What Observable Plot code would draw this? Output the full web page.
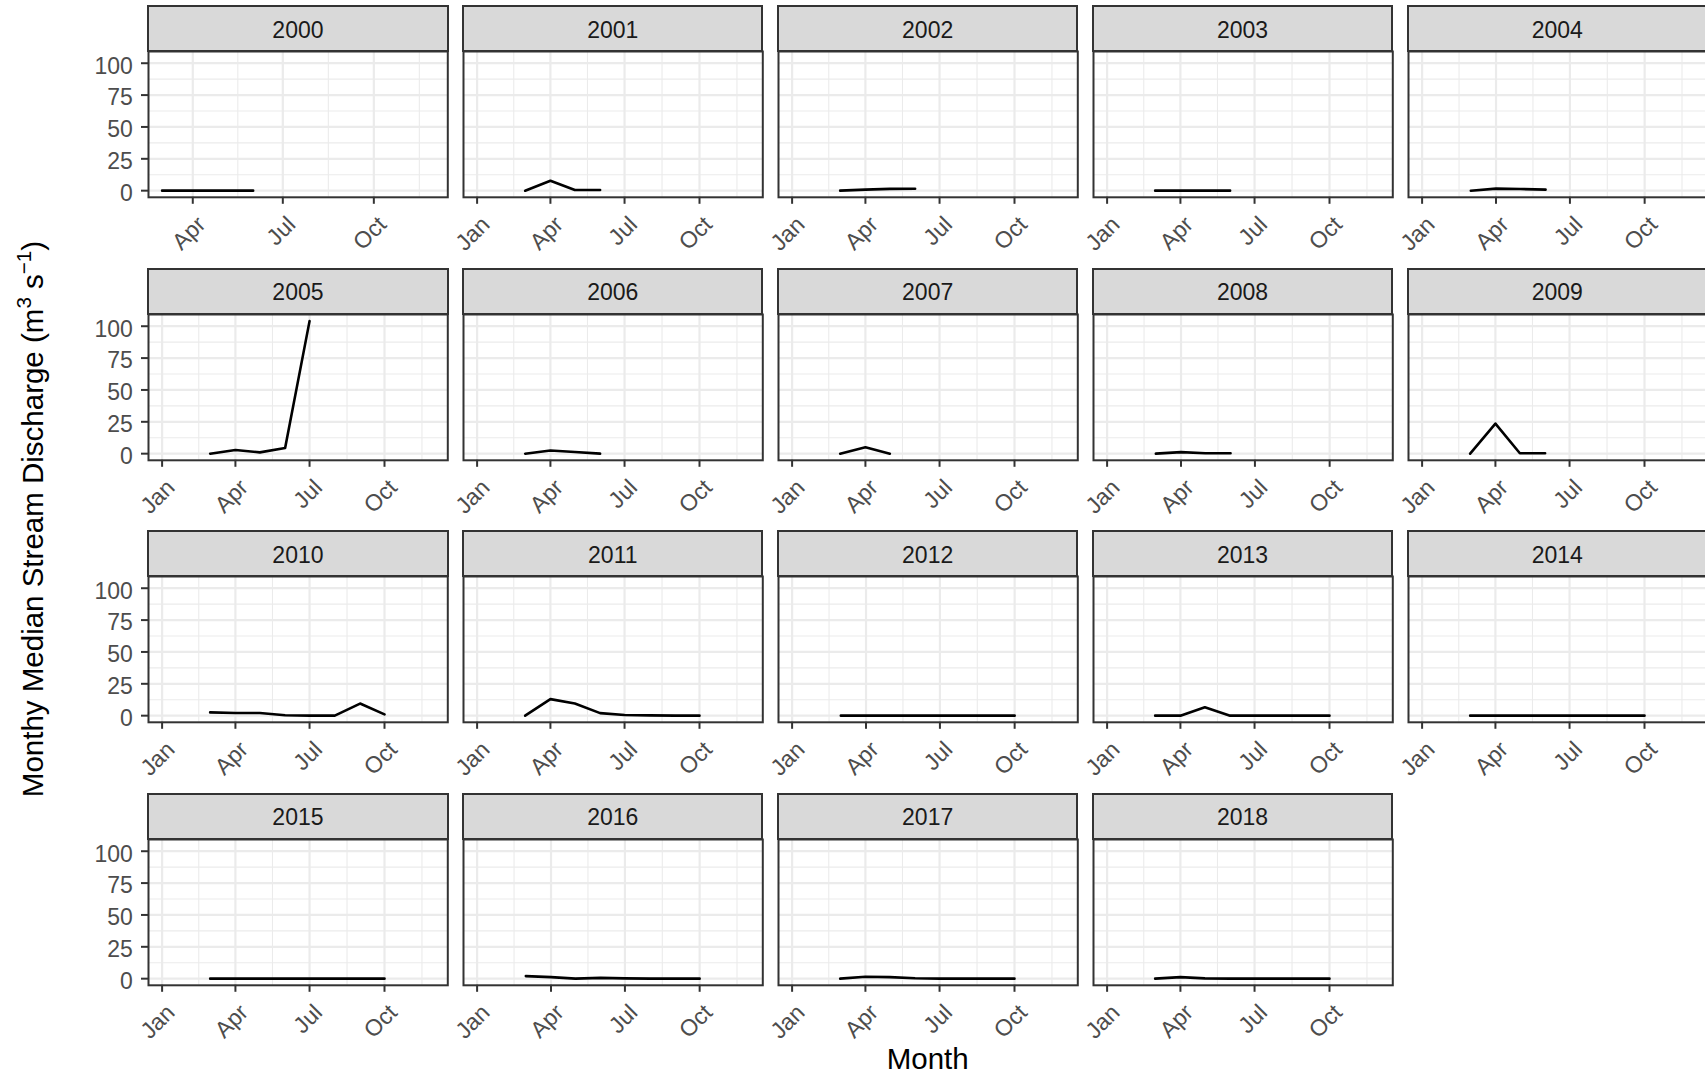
<!DOCTYPE html>
<html>
<head>
<meta charset="utf-8">
<script src="https://cdn.jsdelivr.net/npm/d3@7"></script>
<script src="https://cdn.jsdelivr.net/npm/@observablehq/plot@0.6"></script>
<style>
  body { margin: 0; background: #fff; }
  #chart { position: relative; width: 1705px; height: 1079px; overflow: hidden;
           font-family: "Liberation Sans", Arial, Helvetica, sans-serif; background: #fff; }
  .strip { position: absolute; box-sizing: border-box; background: #D9D9D9; border: 2px solid #333;
           color: #1A1A1A; font-size: 23px; display: flex; align-items: center; justify-content: center;
           padding-top: 3px; }
  .title { position: absolute; white-space: nowrap; color: #000; font-size: 29.5px; }
  .sup { font-size: 0.7em; position: relative; top: -0.6em; }
</style>
</head>
<body>
<div id="chart"></div>
<script>
// Monthly median stream discharge (m3/s), one 12-month array per year (Jan..Dec).
// null = month inside the record with no median value.
const years = [2000, 2001, 2002, 2003, 2004, 2005, 2006, 2007, 2008, 2009,
               2010, 2011, 2012, 2013, 2014, 2015, 2016, 2017, 2018];
// First month of each year's record (the record opens in March 2000).
const recordStartMonth = [3, 1, 1, 1, 1, 1, 1, 1, 1, 1, 1, 1, 1, 1, 1, 1, 1, 1, 1];

const q2000 = [null, null, 0, 0, 0, 0, null, null, null, null, null, null];
const q2001 = [null, null, 0, 7.8, 0.5, 0.5, null, null, null, null, null, null];
const q2002 = [null, null, 0, 0.8, 1.4, 1.5, null, null, null, null, null, null];
const q2003 = [null, null, 0, 0, 0, 0, null, null, null, null, null, null];
const q2004 = [null, null, 0, 1.6, 1.3, 0.8, null, null, null, null, null, null];
const q2005 = [null, null, 0, 2.9, 1.0, 4.5, 104, null, null, null, null, null];
const q2006 = [null, null, 0, 2.5, 1.3, 0, null, null, null, null, null, null];
const q2007 = [null, null, 0, 5.0, 0, null, null, null, null, null, null, null];
const q2008 = [null, null, 0, 1.2, 0.3, 0.3, null, null, null, null, null, null];
const q2009 = [null, null, 0, 23.6, 0.3, 0.3, null, null, null, null, null, null];
const q2010 = [null, null, 2.6, 2.1, 2.1, 0.3, 0, 0, 9.5, 1.0, null, null];
const q2011 = [null, null, 0, 13.0, 9.5, 2.0, 0.5, 0.2, 0, 0, null, null];
const q2012 = [null, null, 0, 0, 0, 0, 0, 0, 0, 0, null, null];
const q2013 = [null, null, 0, 0, 6.6, 0, 0, 0, 0, 0, null, null];
const q2014 = [null, null, 0, 0, 0, 0, 0, 0, 0, 0, null, null];
const q2015 = [null, null, 0, 0, 0, 0, 0, 0, 0, 0, null, null];
const q2016 = [null, null, 2.0, 1.2, 0, 0.6, 0.2, 0, 0, 0, null, null];
const q2017 = [null, null, 0, 1.5, 1.2, 0.3, 0, 0, 0, 0, null, null];
const q2018 = [null, null, 0, 1.2, 0.2, 0, 0, 0, 0, 0, null, null];

const series = [q2000, q2001, q2002, q2003, q2004, q2005, q2006, q2007, q2008, q2009,
                q2010, q2011, q2012, q2013, q2014, q2015, q2016, q2017, q2018];

const monthTickLabels = ["Jan", "Apr", "Jul", "Oct"];
const yTicks = [0, 25, 50, 75, 100];

const yTitleHTML = 'Monthy Median Stream Discharge (m<span class="sup">3</span> s<span class="sup">\u22121</span>)';
const xTitle = "Month";

// ---- layout of the 5 x 4 facet grid ----
const NCOL = 5;
const panelW = 299.3, panelH = 145.8, stripH = 45;
const colLeft = c => 148.3 + c * 314.85;
const rowTop = r => 51 + r * 262.57;   // top of the plotting panel (below the strip)
const ML = 70, MR = 4, MT = 4, MB = 90;

const font = '"Liberation Sans", Arial, Helvetica, sans-serif';
const chart = document.getElementById("chart");

// shared y scale, expanded 5% each side like the facet default
const allQ = series.flat().filter(v => v != null);
const yMax = d3.max(allQ), yPad = 0.05 * (yMax - 0);
const yDomain = [0 - yPad, yMax + yPad];
const yMinor = yTicks.slice(1).map((v, k) => (v + yTicks[k]) / 2);

years.forEach((year, i) => {
  const col = i % NCOL, row = Math.floor(i / NCOL);
  const values = series[i];
  const first = recordStartMonth[i] - 1;
  const data = values
    .map((q, m) => ({date: new Date(Date.UTC(year, m, 1)), q}))
    .filter((d, m) => m >= first && d.q != null);

  // free x scale per year: record span expanded by 5%
  const start = Date.UTC(year, first, 1), end = Date.UTC(year, 11, 1);
  const xp = 0.05 * (end - start);
  const xDomain = [new Date(start - xp), new Date(end + xp)];
  const inRange = d => d >= xDomain[0] && d <= xDomain[1];
  const quarterStarts = d3.range(-1, 5).map(k => new Date(Date.UTC(year, 3 * k, 1)));
  const xMajor = quarterStarts.filter(inRange);
  const xMinor = quarterStarts.slice(1)
    .map((d, k) => new Date((+d + +quarterStarts[k]) / 2))
    .filter(inRange);

  const marks = [
    Plot.ruleX(xMinor, {stroke: "#EBEBEB", strokeWidth: 1.1}),
    Plot.ruleY(yMinor, {stroke: "#EBEBEB", strokeWidth: 1.1}),
    Plot.ruleX(xMajor, {stroke: "#EBEBEB", strokeWidth: 2.2}),
    Plot.ruleY(yTicks, {stroke: "#EBEBEB", strokeWidth: 2.2}),
    Plot.line(data, {x: "date", y: "q", stroke: "#000", strokeWidth: 2.6}),
    Plot.frame({stroke: "#333", strokeWidth: 2}),
    Plot.axisX(xMajor, {tickSize: 7, tickFormat: () => "", stroke: "#333", strokeWidth: 2, label: null}),
    Plot.text(xMajor, {
      x: d => d,
      text: d => monthTickLabels[d.getUTCMonth() / 3],
      frameAnchor: "bottom", rotate: -45, textAnchor: "end", lineAnchor: "top",
      dx: 2.5, dy: 17, fill: "#4D4D4D", fontSize: 23
    })
  ];
  if (col === 0) {
    marks.push(
      Plot.axisY(yTicks, {tickSize: 7, tickFormat: () => "", stroke: "#333", strokeWidth: 2, label: null}),
      Plot.text(yTicks, {
        y: d => d, text: d => String(d), frameAnchor: "left", textAnchor: "end",
        dx: -15.6, dy: 3, fill: "#4D4D4D", fontSize: 23
      })
    );
  }

  const svg = Plot.plot({
    width: ML + panelW + MR,
    height: MT + panelH + MB,
    marginLeft: ML, marginRight: MR, marginTop: MT, marginBottom: MB,
    x: {type: "utc", domain: xDomain},
    y: {domain: yDomain, axis: col === 0 ? undefined : null},
    style: {fontFamily: font, fontSize: "23px", background: "transparent", overflow: "visible", maxWidth: "none"},
    marks
  });
  svg.style.position = "absolute";
  svg.style.left = (colLeft(col) - ML) + "px";
  svg.style.top = (rowTop(row) - MT) + "px";
  chart.appendChild(svg);

  const strip = document.createElement("div");
  strip.className = "strip";
  strip.textContent = String(year);
  strip.style.left = (colLeft(col) - 1) + "px";
  strip.style.top = (rowTop(row) - stripH - 1) + "px";
  strip.style.width = (panelW + 2) + "px";
  strip.style.height = (stripH + 2) + "px";
  chart.appendChild(strip);
});

// axis titles
const yTitle = document.createElement("div");
yTitle.className = "title";
yTitle.innerHTML = yTitleHTML;
yTitle.style.left = "33px";
yTitle.style.top = "519px";
yTitle.style.transform = "translate(-50%, -50%) rotate(-90deg)";
chart.appendChild(yTitle);

const xT = document.createElement("div");
xT.className = "title";
xT.textContent = xTitle;
xT.style.left = "927.7px";
xT.style.top = "1058.5px";
xT.style.transform = "translate(-50%, -50%)";
chart.appendChild(xT);
</script>
</body>
</html>
